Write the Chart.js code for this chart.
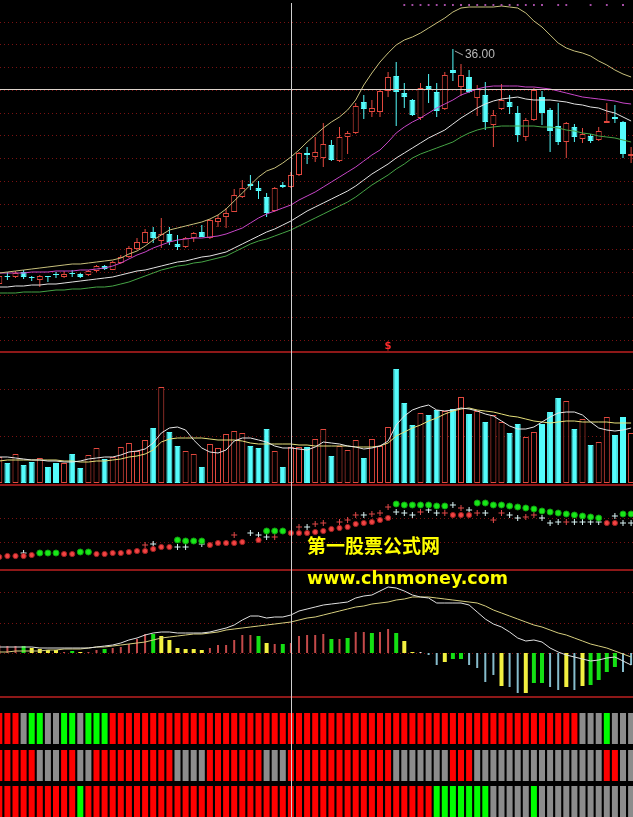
<!DOCTYPE html>
<html>
<head>
<meta charset="utf-8">
<script src="https://cdn.jsdelivr.net/npm/chart.js@4.4.1/dist/chart.umd.min.js"></script>
<style>
html, body { margin: 0; padding: 0; background: #000; width: 633px; height: 817px; overflow: hidden; }
canvas { position: absolute; left: 0; }
.wm { position: absolute; color: #ffff00; font-weight: bold; white-space: nowrap; }
</style>
</head>
<body>
<canvas id="pricePane" width="633" height="353" style="top:0"></canvas>
<canvas id="volPane" width="633" height="133" style="top:353px"></canvas>
<canvas id="sarPane" width="633" height="85" style="top:486px"></canvas>
<canvas id="macdPane" width="633" height="127" style="top:571px"></canvas>
<canvas id="blockPane" width="633" height="119" style="top:698px"></canvas>
<div class="wm" style="left:307px;top:535px;font-size:19px;line-height:19px;font-family:'Noto Sans CJK SC'">第一股票公式网</div>
<div class="wm" style="left:307px;top:567px;font-size:17.5px;line-height:22px;font-family:'DejaVu Sans'">www.chnmoney.com</div>
<script>
// ---- candles (79 bars, left to right) ----
const opens = [24.25,24.65,24.60,24.85,24.60,24.45,24.65,24.75,24.60,24.80,
  24.75,24.70,24.90,25.15,24.95,25.30,25.60,26.00,26.30,26.85,
  26.40,26.75,26.25,26.10,26.55,26.85,26.55,27.35,27.60,27.85,
  28.60,29.25,29.05,28.60,27.90,29.20,29.10,29.70,30.80,30.60,
  30.55,31.20,30.40,31.60,31.80,33.35,32.85,32.85,33.90,34.65,
  33.80,33.45,32.55,34.15,33.85,33.00,34.95,34.10,34.60,33.55,
  33.70,32.20,33.00,33.35,32.80,31.60,32.45,33.60,32.95,32.15,
  31.35,32.10,31.50,31.65,31.45,32.30,32.60,32.35,30.65];
const highs = [24.85,24.85,24.90,24.95,24.65,24.70,24.65,24.85,24.90,24.95,
  24.80,24.95,25.20,25.20,25.40,25.70,26.15,26.55,27.00,27.10,
  27.55,27.10,26.70,26.60,26.85,27.20,27.50,27.70,28.05,29.00,
  29.45,29.70,29.40,28.80,29.10,29.35,29.85,30.85,31.10,31.60,
  32.30,31.45,32.10,31.90,33.30,33.70,33.45,33.95,34.85,35.35,
  34.30,33.50,34.30,34.75,34.30,34.85,36.00,35.25,34.95,34.20,
  34.35,32.95,34.25,33.70,33.15,32.55,34.05,33.90,33.05,33.30,
  32.35,32.25,32.05,31.75,32.10,33.30,33.20,32.40,31.10];
const lows = [24.10,24.45,24.55,24.50,24.40,24.10,24.35,24.55,24.55,24.60,
  24.55,24.65,24.85,24.95,24.95,25.25,25.55,25.95,26.30,26.30,
  26.05,26.20,25.95,26.05,26.35,26.60,26.50,27.10,27.05,27.85,
  28.55,28.95,28.50,27.60,27.85,29.05,29.05,29.65,30.25,30.35,
  30.10,30.40,30.35,30.75,31.75,32.50,32.60,32.60,33.60,32.15,
  33.05,32.65,32.45,33.30,32.60,32.95,34.40,33.65,33.80,32.65,
  31.95,31.10,32.95,32.75,31.35,31.40,32.40,32.20,30.85,31.20,
  30.55,31.35,31.30,31.30,31.40,32.30,32.30,30.55,30.30];
const closes = [24.65,24.60,24.80,24.60,24.55,24.65,24.60,24.70,24.75,24.75,
  24.60,24.90,25.15,25.00,25.35,25.60,26.05,26.35,26.85,26.55,
  26.75,26.35,26.10,26.55,26.80,26.60,27.45,27.55,27.80,28.70,
  29.05,29.15,28.90,27.80,29.05,29.10,29.70,30.80,30.70,30.85,
  31.25,30.45,31.60,31.80,33.15,33.00,33.05,33.90,34.60,33.85,
  33.60,32.70,34.05,34.00,32.90,34.70,34.80,34.70,33.85,34.00,
  32.35,32.70,33.45,33.10,31.70,32.45,33.95,32.80,31.90,31.35,
  32.30,31.60,31.75,31.40,31.90,32.40,32.50,30.75,30.75];

// ---- price overlays ----
const upperBand = [24.80,24.85,24.90,24.95,25.00,25.05,25.10,25.15,25.20,25.25,
  25.25,25.30,25.35,25.40,25.45,25.55,25.75,25.90,26.15,26.45,
  26.70,26.95,27.05,27.15,27.25,27.35,27.50,27.70,28.00,28.40,
  28.80,29.20,29.60,29.90,30.05,30.30,30.60,30.95,31.35,31.70,
  32.05,32.35,32.60,32.95,33.45,34.20,34.80,35.35,35.80,36.20,
  36.45,36.60,36.80,37.05,37.30,37.55,37.85,38.05,38.10,38.10,
  38.10,38.10,38.15,38.10,38.05,37.80,37.40,37.10,36.70,36.30,
  36.05,35.90,35.80,35.65,35.40,35.20,34.95,34.75,34.60];
const maShort = [24.80,24.80,24.80,24.80,24.85,24.85,24.85,24.90,24.90,24.90,
  24.95,24.95,25.00,25.05,25.15,25.30,25.50,25.70,25.85,26.05,
  26.20,26.35,26.45,26.50,26.55,26.55,26.60,26.65,26.75,26.90,
  27.05,27.30,27.55,27.75,27.90,28.05,28.20,28.45,28.65,28.85,
  29.10,29.35,29.60,29.85,30.10,30.40,30.70,30.95,31.35,31.80,
  32.10,32.35,32.55,32.80,33.05,33.25,33.45,33.70,33.85,34.00,
  34.10,34.15,34.15,34.15,34.15,34.10,34.10,34.05,34.00,33.90,
  33.80,33.70,33.60,33.55,33.50,33.45,33.40,33.30,33.25];
const maMid = [24.10,24.10,24.15,24.15,24.20,24.20,24.25,24.25,24.30,24.35,
  24.40,24.45,24.50,24.55,24.60,24.70,24.80,24.90,24.95,25.05,
  25.15,25.25,25.35,25.40,25.50,25.60,25.65,25.75,25.85,26.05,
  26.25,26.45,26.65,26.85,27.00,27.20,27.40,27.65,27.90,28.10,
  28.30,28.50,28.70,28.90,29.15,29.45,29.75,30.00,30.25,30.55,
  30.80,31.05,31.30,31.55,31.75,31.95,32.25,32.55,32.80,33.05,
  33.25,33.40,33.50,33.55,33.60,33.50,33.45,33.45,33.45,33.40,
  33.35,33.25,33.20,33.10,33.05,32.90,32.80,32.60,32.40];
const maLong = [23.80,23.80,23.80,23.85,23.85,23.85,23.90,23.95,23.95,24.00,
  24.00,24.05,24.10,24.10,24.15,24.25,24.35,24.50,24.65,24.80,
  24.95,25.05,25.15,25.20,25.30,25.35,25.45,25.55,25.65,25.85,
  26.05,26.25,26.40,26.50,26.65,26.80,26.95,27.15,27.35,27.55,
  27.75,27.95,28.15,28.35,28.60,28.90,29.20,29.45,29.70,30.00,
  30.25,30.55,30.75,30.90,31.05,31.20,31.35,31.60,31.80,31.95,
  32.05,32.10,32.15,32.15,32.15,32.15,32.15,32.10,32.10,32.05,
  31.95,31.90,31.80,31.75,31.65,31.60,31.55,31.45,31.35];
const topMarkBars = [50,51,52,53,54,55,56,57,58,59,60,61,62,63,64,65,66,67,69,70,73,75,77];
const sellSignalBars = [48];
const cursorBar = 36;
const cursorPrice = 33.98;

// ---- volume ----
const volume = [26,20,29,18,21,25,16,20,20,29,
  15,28,35,24,26,36,40,32,43,55,
  96,51,37,32,29,16,39,35,49,52,
  50,37,35,54,32,16,36,36,36,44,
  54,27,37,33,43,25,44,37,56,114,
  80,58,70,68,73,72,74,86,69,72,
  61,68,61,50,59,46,51,59,71,85,
  82,54,64,38,41,66,48,66,50];
const volMa5 = [26,26,25,24,23,23,22,22,21,21,
  22,24,25,26,26,28,31,32,34,40,
  50,55,56,53,43,35,31,30,33,42,
  45,45,43,41,37,35,35,34,33,36,
  41,40,39,37,36,34,35,37,42,58,
  67,73,76,78,73,72,73,75,74,72,
  69,67,62,57,54,54,56,61,66,70,
  71,71,68,61,55,53,52,53,55];
const volMa10 = [22,23,23,23,23,23,23,23,22,22,
  21,21,22,22,23,24,26,27,29,33,
  41,44,45,45,45,45,44,43,43,43,
  42,40,39,39,39,39,39,38,38,37,
  37,37,37,37,36,36,36,37,40,47,
  51,55,58,62,65,69,72,74,75,73,
  72,71,69,67,66,64,62,61,60,61,
  62,62,61,61,61,61,60,60,60];

// ---- stop-and-reverse dots ----
const sarValue = [1.3,1.4,1.4,1.4,1.5,1.7,1.7,1.7,1.6,1.6,
  1.8,1.8,1.6,1.6,1.7,1.7,1.8,1.9,1.9,2.1,
  2.3,2.3,3.0,2.9,2.9,2.9,2.5,2.7,2.7,2.7,
  2.8,null,3.0,3.9,3.9,3.9,3.7,3.7,3.7,3.8,
  3.9,4.1,4.2,4.3,4.6,4.7,4.8,5.0,5.2,6.6,
  6.5,6.5,6.5,6.5,6.4,6.4,5.5,5.5,5.5,6.7,
  6.7,6.5,6.5,6.4,6.3,6.2,6.1,5.9,5.8,5.7,
  5.6,5.5,5.4,5.3,5.2,4.7,4.7,5.6,5.6];
const sarKind = ("RRRRR" + "GGG" + "RR" + "GG" + "RRRRRRRRRR" + "GGGG" + "RRRRR" + "-" + "R" + "GGG" +
  "RRRRRRRRRRRRR" + "GGGGGGG" + "RRR" + "GGGGGGGGGGGGGGGG" + "RR" + "GG").split("");
const tickValue = [null,null,null,1.7,null,null,null,null,null,null,
  null,null,null,null,null,null,null,null,2.5,2.6,
  null,null,2.3,2.3,null,2.6,null,null,null,3.5,
  null,3.7,3.5,3.3,3.3,null,null,4.3,4.3,4.6,
  4.7,null,4.8,5.0,5.5,5.5,5.6,5.7,6.3,5.8,
  5.7,5.5,5.8,6.0,5.7,5.7,6.5,6.2,6.0,5.7,
  5.7,5.0,5.7,5.5,5.2,5.3,5.5,5.2,4.7,4.8,
  4.8,4.8,4.8,4.8,4.8,null,5.4,4.7,4.7];
const tickKind = ("---W" + "--------------" + "RW" + "--" + "WW" + "-W" + "---" + "R-" + "WWWR" + "--" + "RWRR" + "-" +
  "RRRWRRR" + "WWWRWWRWRWRW" + "RRWWRRWWWRWWWW" + "-WWW").split("");

// ---- MACD ----
const dif = [0.12,0.12,0.12,0.12,0.12,0.10,0.10,0.10,0.10,0.10,
  0.10,0.10,0.12,0.14,0.16,0.20,0.26,0.30,0.36,0.40,
  0.42,0.42,0.40,0.40,0.40,0.40,0.42,0.46,0.50,0.56,
  0.66,0.74,0.74,0.70,0.72,0.72,0.76,0.84,0.88,0.92,
  0.96,0.98,1.00,1.02,1.10,1.14,1.16,1.24,1.32,1.30,
  1.24,1.16,1.12,1.10,1.00,1.00,1.00,1.00,0.96,0.82,
  0.68,0.58,0.52,0.42,0.30,0.24,0.26,0.22,0.10,0.02,
  -0.04,-0.08,-0.12,-0.16,-0.14,-0.10,-0.08,-0.16,-0.24];
const dea = [0.02,0.02,0.04,0.04,0.04,0.04,0.06,0.06,0.08,0.08,
  0.08,0.10,0.12,0.12,0.14,0.16,0.18,0.20,0.22,0.26,
  0.30,0.32,0.34,0.36,0.38,0.38,0.40,0.42,0.46,0.48,
  0.50,0.52,0.54,0.56,0.58,0.60,0.62,0.66,0.70,0.72,
  0.76,0.80,0.84,0.88,0.92,0.94,0.98,1.00,1.02,1.06,
  1.08,1.12,1.12,1.12,1.10,1.08,1.06,1.04,1.02,1.00,
  0.94,0.86,0.80,0.74,0.68,0.62,0.56,0.52,0.46,0.40,
  0.36,0.30,0.24,0.18,0.14,0.10,0.04,-0.02,-0.08];
const macdBar = [0.16,0.14,0.14,0.14,0.10,0.08,0.06,0.06,0.02,0.04,
  0.02,0.02,0.06,0.08,0.10,0.12,0.18,0.28,0.38,0.38,
  0.34,0.26,0.10,0.08,0.08,0.06,0.10,0.16,0.16,0.26,
  0.36,0.36,0.34,0.20,0.18,0.18,0.20,0.34,0.36,0.36,
  0.38,0.28,0.28,0.30,0.42,0.42,0.40,0.42,0.48,0.40,
  0.24,0.02,0.02,-0.04,-0.24,-0.18,-0.12,-0.12,-0.24,-0.30,
  -0.58,-0.44,-0.66,-0.68,-0.80,-0.80,-0.60,-0.60,-0.68,-0.74,
  -0.68,-0.74,-0.66,-0.64,-0.54,-0.38,-0.28,-0.38,-0.24];
const macdKind = ("rrrgyyyyrg" + "yrrgrrrrrg" + "yyyyyyrrrr" + "rrgyrgrrrr" + "rgrgrrgrrg" +
  "yywccyggcc" + "ccyccyggcc" + "ycyggggcc").split("");

// ---- state strips (R = red, G = green, N = neutral grey) ----
const strip1 = ["RRRNGGNNGGNGGG", "RRRRRRRRRR", "RRRRRRRRRR", "RRRRRRRRRR", "RRRRRRRRRR", "RRRRRRRRRR", "RRRRRRRR", "NNNGNNN"].join("").split("");
const strip2 = ["RRRRRNNNRRNN", "RRRRRRRRRR", "NNNN", "RRRRRRR", "NNN", "RRRRRRRRRRRRR", "NNNNNNN", "RRR", "NNNNNNNNNNNNNNNN", "RR", "NN"].join("").split("");
const strip3 = ["RRRRRRRRRR", "G", "RRRRRRRRRR", "RRRRRRRRRR", "RRRRRRRRRR", "RRRRRRRRRR", "RRR", "GGGGGGG", "NNNNN", "G", "NNNNNNNNNNNN"].join("").split("");

// ---- look ----
const RED = '#e2483e', CYAN = '#54fcfc';
const BAR0_PX = -0.7, BAR_STEP = 8.1, WIDTH = 633;
const X_MIN = -BAR0_PX / BAR_STEP, X_MAX = X_MIN + WIDTH / BAR_STEP;
const up = closes.map((c, i) => c >= opens[i]);

const pts = arr => arr.map((v, i) => ({ x: i, y: v }));
const line = (arr, color) => ({ type: 'line', data: pts(arr), borderColor: color, borderWidth: 1,
  pointRadius: 0, pointHoverRadius: 0, tension: 0, order: -1 });

function deco(opt) {
  return {
    id: 'deco',
    beforeDatasetsDraw(chart) {
      const { ctx, chartArea: a } = chart;
      const y = chart.scales.y;
      ctx.save();
      ctx.strokeStyle = '#7a1212';
      ctx.lineWidth = 1;
      ctx.setLineDash([1, 3]);
      (opt.grid || []).forEach(v => {
        const py = Math.round(y.getPixelForValue(v)) + 0.5;
        ctx.beginPath(); ctx.moveTo(a.left, py); ctx.lineTo(a.right, py); ctx.stroke();
      });
      ctx.restore();
    },
    afterDatasetsDraw(chart) {
      const { ctx, chartArea: a, scales: { x, y } } = chart;
      ctx.save();
      if (opt.extra) opt.extra(chart);
      if (opt.sep) { ctx.fillStyle = '#8e1818'; ctx.fillRect(a.left, a.bottom - 2, a.right - a.left, 2); }
      if (opt.hPrice != null) {
        ctx.fillStyle = '#ddd4cc';
        ctx.fillRect(a.left, Math.round(y.getPixelForValue(opt.hPrice)), a.right - a.left, 1);
      }
      const cx = Math.round(x.getPixelForValue(cursorBar));
      const top = a.top + (opt.crossTop || 0);
      ctx.fillStyle = '#cfcfcf';
      ctx.fillRect(cx, top, 1, a.bottom - top);
      ctx.restore();
    }
  };
}

function options(yMin, yMax) {
  return {
    responsive: false, animation: false, devicePixelRatio: 1, events: [],
    layout: { padding: 0, autoPadding: false },
    scales: {
      x: { type: 'linear', min: X_MIN, max: X_MAX, display: false, offset: false, grid: { offset: false } },
      y: { min: yMin, max: yMax, display: false }
    },
    plugins: { legend: { display: false }, tooltip: { enabled: false } }
  };
}

// price pane
const priceGrid = [];
for (let v = 21.447; v < 38; v += 1.137) priceGrid.push(v);
new Chart(document.getElementById('pricePane'), {
  type: 'bar',
  data: { datasets: [
    line(upperBand, '#c8c07c'),
    line(maShort, '#c846c8'),
    line(maMid, '#e2e2e2'),
    line(maLong, '#46a446'),
    { type: 'line', data: topMarkBars.map(i => ({ x: i, y: 38.2 })), showLine: false, pointStyle: 'rect',
      pointRadius: 1.3, pointHoverRadius: 0, pointBorderWidth: 0, pointBackgroundColor: '#b454b4', order: -2 },
    { data: opens.map((o, i) => ({ x: i, y: [Math.min(o, closes[i]), Math.max(o, closes[i])] })),
      backgroundColor: up.map(u => u ? '#000' : CYAN), borderColor: up.map(u => u ? RED : CYAN),
      borderWidth: 1, borderSkipped: false, barThickness: 6, grouped: false, inflateAmount: 0, order: 1 },
    { data: highs.map((h, i) => ({ x: i, y: [lows[i], h] })),
      backgroundColor: up.map(u => u ? RED : CYAN), barThickness: 1, grouped: false, inflateAmount: 0, order: 2 }
  ]},
  options: options(38.45 - 353 / 20, 38.45),
  plugins: [deco({ grid: priceGrid, sep: true, hPrice: cursorPrice, crossTop: 3, extra(chart) {
    const { ctx, chartArea: a, scales: { x, y } } = chart;
    const hi = Math.max(...highs), hiIdx = highs.indexOf(hi);
    const px = x.getPixelForValue(hiIdx), py = y.getPixelForValue(hi);
    ctx.strokeStyle = '#a8a8a8'; ctx.lineWidth = 1;
    ctx.beginPath(); ctx.moveTo(px + 2, py + 2); ctx.lineTo(px + 10, py + 6); ctx.stroke();
    ctx.fillStyle = '#b8b8b8'; ctx.font = '12px "Liberation Sans", Arial, sans-serif';
    ctx.textBaseline = 'middle'; ctx.textAlign = 'left';
    ctx.fillText(hi.toFixed(2), px + 12, py + 6);
    ctx.fillStyle = '#ff2a2a'; ctx.font = 'bold 10px "DejaVu Sans", sans-serif';
    ctx.textAlign = 'center'; ctx.textBaseline = 'alphabetic';
    sellSignalBars.forEach(i => ctx.fillText('$', x.getPixelForValue(i), a.bottom - 4));
  } })]
});

// volume pane
new Chart(document.getElementById('volPane'), {
  type: 'bar',
  data: { datasets: [
    line(volMa5, '#e6e6e6'),
    line(volMa10, '#e6e07a'),
    { data: pts(volume), backgroundColor: up.map(u => u ? '#000' : CYAN), borderColor: up.map(u => u ? RED : CYAN),
      borderWidth: 1, borderSkipped: false, barThickness: 6, grouped: false, inflateAmount: 0, order: 1 }
  ]},
  options: options(-3, 130),
  plugins: [deco({ grid: [47, 94], sep: true })]
});

// SAR pane
new Chart(document.getElementById('sarPane'), {
  type: 'bar',
  data: { datasets: [
    { type: 'line', data: pts(tickValue), showLine: false, pointStyle: 'cross', pointRadius: 3, pointHoverRadius: 0,
      pointBorderWidth: 1, pointBorderColor: tickKind.map(k => k === 'R' ? '#e04848' : '#d8f4f4'), order: 1 },
    { type: 'line', data: pts(sarValue), showLine: false, pointStyle: 'circle', pointHoverRadius: 0,
      pointRadius: sarKind.map(k => k === 'G' ? 3 : 2.6), pointBorderWidth: 1,
      pointBackgroundColor: sarKind.map(k => k === 'G' ? '#18e818' : '#f04444'),
      pointBorderColor: sarKind.map(k => k === 'G' ? '#10a010' : '#a02020'), order: 0 }
  ]},
  options: options(-0.1, 8.4),
  plugins: [deco({ grid: [2.8, 5.2], sep: true })]
});

// MACD pane
const macdColor = { r: '#c44a4a', c: '#86bccc', g: '#14e014', y: '#f2f040', w: '#e0e0e0' };
const thick = k => k === 'g' || k === 'y';
new Chart(document.getElementById('macdPane'), {
  type: 'bar',
  data: { datasets: [
    line(dif, '#e0e0e0'),
    line(dea, '#d6ce7e'),
    { data: macdBar.map((v, i) => ({ x: i, y: thick(macdKind[i]) ? null : v })),
      backgroundColor: macdKind.map(k => macdColor[k]), barThickness: 2, grouped: false, inflateAmount: 0, order: 1 },
    { data: macdBar.map((v, i) => ({ x: i, y: thick(macdKind[i]) ? v : null })),
      backgroundColor: macdKind.map(k => macdColor[k]), barThickness: 4, grouped: false, inflateAmount: 0, order: 1 }
  ]},
  options: options(-0.90, 1.64),
  plugins: [deco({ grid: [0, 0.61, 1.22], sep: true })]
});

// state strips
const stripColor = { R: '#ff0000', G: '#00ff00', N: '#8c8c8c' };
const strip = (states, lo, hi) => ({ data: states.map((s, i) => ({ x: i, y: [lo, hi] })),
  backgroundColor: states.map(s => stripColor[s]), barThickness: 6, grouped: false, inflateAmount: 0 });
new Chart(document.getElementById('blockPane'), {
  type: 'bar',
  data: { datasets: [strip(strip1, 73, 104), strip(strip2, 36, 67), strip(strip3, 0, 31)] },
  options: options(0, 119),
  plugins: [deco({})]
});
</script>
</body>
</html>
